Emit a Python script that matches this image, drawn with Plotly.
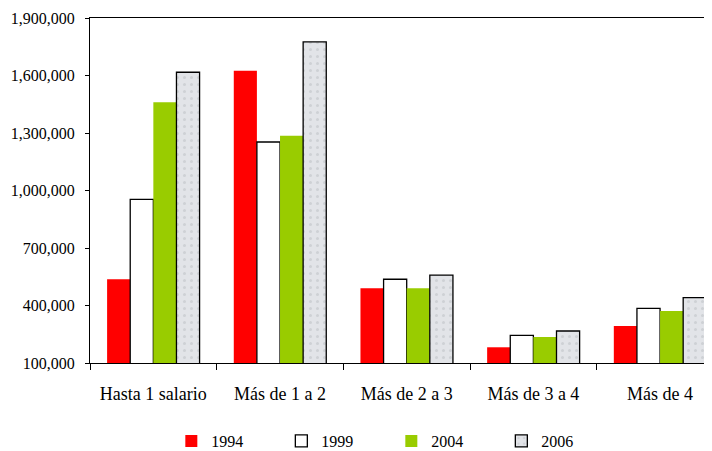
import plotly.graph_objects as go

categories = ["Hasta 1 salario", "Más de 1 a 2", "Más de 2 a 3", "Más de 3 a 4", "Más de 4"]
v1994 = [537000, 1625000, 490000, 182000, 293000]
v1999 = [954000, 1253000, 537000, 244000, 385000]
v2004 = [1460000, 1286000, 490000, 236000, 371000]
v2006 = [1617000, 1775000, 559000, 267000, 441000]
y_ticks = [100000, 400000, 700000, 1000000, 1300000, 1600000, 1900000]

FONT = "Liberation Serif, Times New Roman, serif"

fig = go.Figure()
fig.add_trace(go.Bar(name="1994", x=categories, y=v1994,
                     marker=dict(color="#ff0000", line=dict(width=0))))
fig.add_trace(go.Bar(name="1999", x=categories, y=v1999,
                     marker=dict(color="#ffffff", line=dict(color="#000000", width=1.3))))
fig.add_trace(go.Bar(name="2004", x=categories, y=v2004,
                     marker=dict(color="#99cc00", line=dict(width=0))))
fig.add_trace(go.Bar(name="2006", x=categories, y=v2006,
                     marker=dict(color="#dcdfe3", line=dict(color="#000000", width=1.3),
                                 pattern=dict(shape=".", fgcolor="#b9bdc2", bgcolor="#e2e4e8",
                                              size=7, solidity=0.15))))

fig.update_layout(
    width=704, height=443,
    margin=dict(l=82, r=0, t=10, b=88, autoexpand=False),
    paper_bgcolor="white", plot_bgcolor="white",
    font=dict(family=FONT, size=16, color="#000000"),
    barmode="group", bargap=0.27, bargroupgap=0,
    showlegend=True,
    legend=dict(orientation="h", x=0.232, xref="container", xanchor="left",
                y=0.0226, yanchor="middle", yref="container",
                entrywidth=65, entrywidthmode="pixels",
                font=dict(family=FONT, size=16, color="#000000"),
                itemwidth=30, traceorder="normal"),
)
fig.update_xaxes(
    range=[-0.5, 4.41], showline=True, linecolor="#000000", linewidth=1.2,
    mirror=True, ticks="outside", tickson="boundaries", ticklen=6,
    tickcolor="#000000", showgrid=False, ticklabelstandoff=14,
    tickfont=dict(family=FONT, size=18, color="#000000"),
)
fig.update_yaxes(
    range=[100000, 1900000], tickvals=y_ticks, tickformat=",d",
    showline=True, linecolor="#000000", linewidth=1.2,
    ticks="outside", ticklen=4, tickcolor="#000000", showgrid=False,
    zeroline=False, ticklabelstandoff=7,
    tickfont=dict(family=FONT, size=16, color="#000000"),
)

fig.write_html("out.html")
